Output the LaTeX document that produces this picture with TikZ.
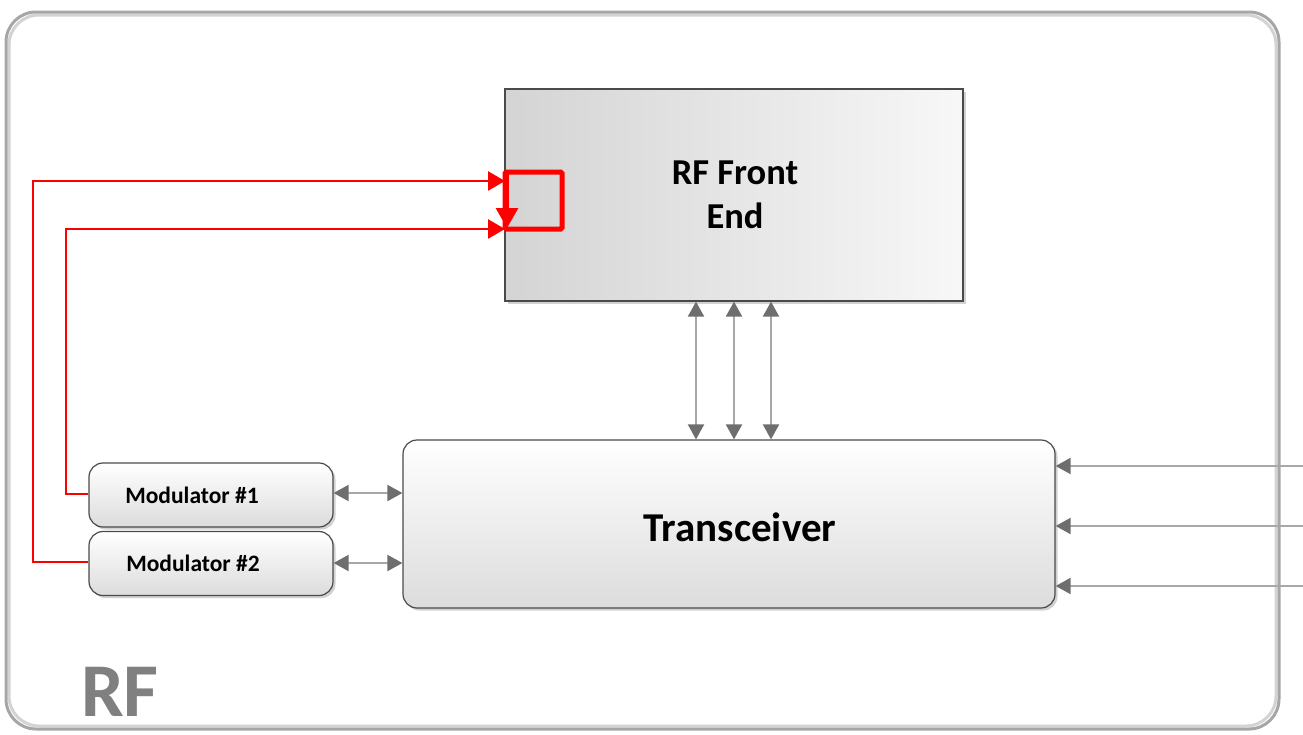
\documentclass[tikz,border=0pt]{standalone}
\usepackage{fontspec}
\setmainfont{Carlito}
\usetikzlibrary{arrows.meta,shadows}
\definecolor{framegray}{HTML}{A6A6A6}
\definecolor{edgegray}{HTML}{4A4A4A}
\definecolor{tipgray}{HTML}{6E6E6E}
\definecolor{linegray}{HTML}{A8A8A8}
\definecolor{labelgray}{HTML}{808080}
\definecolor{boxgray}{HTML}{D4D4D4}
\definecolor{botgray}{HTML}{DCDCDC}
\definecolor{rfred}{HTML}{FF0000}
\tikzset{
  softshadow/.style={drop shadow={opacity=0.18, shadow xshift=2.5pt, shadow yshift=-2.5pt, fill=black}},
  febox/.style={draw=edgegray, line width=1.2pt, left color=boxgray, right color=white!97!black, inner sep=0pt, softshadow},
  roundbox/.style={draw=edgegray, line width=1.2pt, rounded corners=14pt, top color=white, bottom color=botgray, inner sep=0pt, softshadow},
  redline/.style={draw=rfred, line width=2.6pt, -{Triangle[length=17pt,width=19pt]}},
  reddown/.style={draw=rfred, line width=3pt, -{Triangle[length=20pt,width=22pt]}},
  bigray/.style={draw=linegray, line width=2pt, {Triangle[length=15pt,width=16pt,color=tipgray]}-{Triangle[length=15pt,width=16pt,color=tipgray]}},
  ingray/.style={draw=linegray, line width=2pt, -{Triangle[length=15pt,width=16pt,color=tipgray]}},
  lbl/.style={font=\bfseries, text=black, align=center}
}
\begin{document}
\begin{tikzpicture}[x=1pt,y=-1pt]
\useasboundingbox (0,0) rectangle (1303,734);
% outer frame
\draw[framegray!50, line width=3pt, rounded corners=30pt] (9,15) rectangle (1276,726);
\node[draw=framegray, line width=3pt, rounded corners=30pt, minimum width=1273pt, minimum height=717pt, inner sep=0pt] (frame) at (642.5,370.5) {};
\node[text=labelgray, font=\bfseries\fontsize{76}{76}\selectfont, anchor=base west, inner sep=0pt] (rf) at (81,716) {RF};

% RF front end
\node[febox, minimum width=458pt, minimum height=212pt] (fe) at (734,195) {};
\node[lbl, font=\bfseries\fontsize{36.5}{44}\selectfont] (fetext) at (735,195) {RF Front\\End};

% transceiver
\node[roundbox, minimum width=652pt, minimum height=168pt] (tr) at (729,524) {};
\node[lbl, font=\bfseries\fontsize{41}{44}\selectfont] (trtext) at (740,527) {Transceiver};

% modulators
\node[roundbox, minimum width=244pt, minimum height=64pt] (m1) at (211,495) {};
\node[lbl, font=\bfseries\fontsize{23.5}{26}\selectfont] (m1text) at (192,495) {Modulator \#1};
\node[roundbox, minimum width=244pt, minimum height=64pt] (m2) at (211,563.5) {};
\node[lbl, font=\bfseries\fontsize{23.5}{26}\selectfont] (m2text) at (193,563.5) {Modulator \#2};

% red square
\node[draw=rfred, line width=5pt, rounded corners=1.5pt, minimum width=57pt, minimum height=57pt, inner sep=0pt] (sq) at (533.5,200.5) {};

% red connectors
\coordinate (c1a) at (33,562);
\coordinate (c1b) at (33,181);
\coordinate (c2a) at (66,494);
\coordinate (c2b) at (66,229);
\coordinate (t1) at (505,181);
\coordinate (t2) at (505,229);
\draw[redline] (m2.west |- c1a) -- (c1a) -- (c1b) -- (t1);
\draw[redline] (m1.west |- c2a) -- (c2a) -- (c2b) -- (t2);
\coordinate (d1) at (507,174);
\coordinate (d2) at (507,228);
\draw[reddown] (d1) -- (d2);

% vertical bidirectional arrows
\foreach \x in {696,734,771}{
  \draw[bigray] (fe.south -| \x,0) -- (tr.north -| \x,0);
}

% modulator to transceiver
\draw[bigray] (m1.east |- 0,493) -- (tr.west |- 0,493);
\draw[bigray] (m2.east |- 0,563) -- (tr.west |- 0,563);

% incoming from right
\coordinate (r1) at (1303,466);
\coordinate (r2) at (1303,526);
\coordinate (r3) at (1303,586);
\draw[ingray] (r1) -- (tr.east |- r1);
\draw[ingray] (r2) -- (tr.east |- r2);
\draw[ingray] (r3) -- (tr.east |- r3);
\end{tikzpicture}
\end{document}
